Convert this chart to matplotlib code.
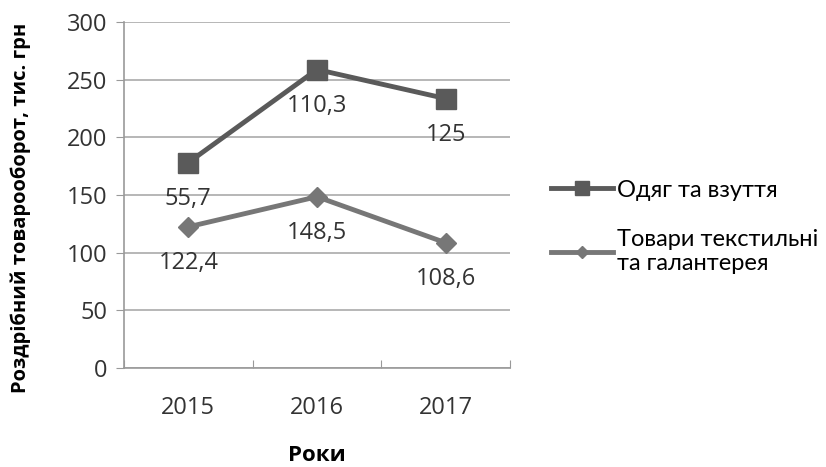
import numpy as np
import matplotlib
matplotlib.use("Agg")
import matplotlib.pyplot as plt

years = ["2015", "2016", "2017"]
clothes = [55.7, 110.3, 125]          # Одяг та взуття
textiles = [122.4, 148.5, 108.6]      # Товари текстильні та галантерея
clothes_labels = ["55,7", "110,3", "125"]
textiles_labels = ["122,4", "148,5", "108,6"]

plt.rcParams['font.family'] = ['Open Sans', 'DejaVu Sans']

fig = plt.figure(figsize=(8.26, 4.67), dpi=100)
ax = fig.add_axes([124 / 826, 1 - 368 / 467, (510 - 124) / 826, (368 - 22) / 467])

x = np.arange(len(years))
# stacked line chart: clothes sits on top of textiles
stacked = np.array(textiles) + np.array(clothes)

c1 = "#5a5a5a"
c2 = "#777777"
l1, = ax.plot(x, stacked, color=c1, lw=3.5, marker="s", ms=15, zorder=3,
              label="Одяг та взуття")
l2, = ax.plot(x, textiles, color=c2, lw=3.5, marker="D", ms=10, zorder=3,
              label="Товари текстильні\nта галантерея")

for xi, yi, t in zip(x, stacked, clothes_labels):
    ax.annotate(t, (xi, yi), xytext=(0, -26), textcoords="offset points",
                ha="center", va="center", fontsize=17, color="#333333", zorder=4)
for xi, yi, t in zip(x, textiles, textiles_labels):
    ax.annotate(t, (xi, yi), xytext=(0, -26), textcoords="offset points",
                ha="center", va="center", fontsize=17, color="#333333", zorder=4)

ax.set_xlim(-0.5, 2.5)
ax.set_ylim(0, 300)
ax.set_yticks(range(0, 301, 50))
ax.set_xticks([-0.5, 0.5, 1.5, 2.5])
ax.set_xticklabels([])
ax.set_xticks(x, minor=True)
ax.set_xticklabels(years, minor=True, fontsize=17, color="#333333")
ax.tick_params(axis="x", which="minor", length=0, pad=20)
ax.tick_params(axis="x", which="major", length=6, color="#999999", direction="in")
ax.tick_params(axis="y", length=6, color="#999999", labelsize=17, labelcolor="#333333", pad=6)

ax.grid(axis="y", color="#aaaaaa", lw=1.2)
ax.set_axisbelow(True)
for s in ["top", "right"]:
    ax.spines[s].set_visible(False)
ax.spines["left"].set_color("#999999")
ax.spines["bottom"].set_color("#999999")
ax.spines["left"].set_linewidth(1.2)
ax.spines["bottom"].set_linewidth(1.2)

ax.set_xlabel("Роки", fontsize=16, fontweight="bold", labelpad=18)
ax.set_ylabel("Роздрібний товарооборот, тис. грн", fontsize=14.5, fontweight="bold")
ax.yaxis.set_label_coords(-0.24, 0.462)

fig.legend(handles=[l1, l2], loc="center left", bbox_to_anchor=(530 / 826, 1 - 227 / 467),
           frameon=False, handlelength=2.6, labelspacing=1.2,
           handletextpad=0.2, markerscale=0.65, prop={"family": "Lato", "size": 17})

fig.savefig("out.png", dpi=100, facecolor="white")
